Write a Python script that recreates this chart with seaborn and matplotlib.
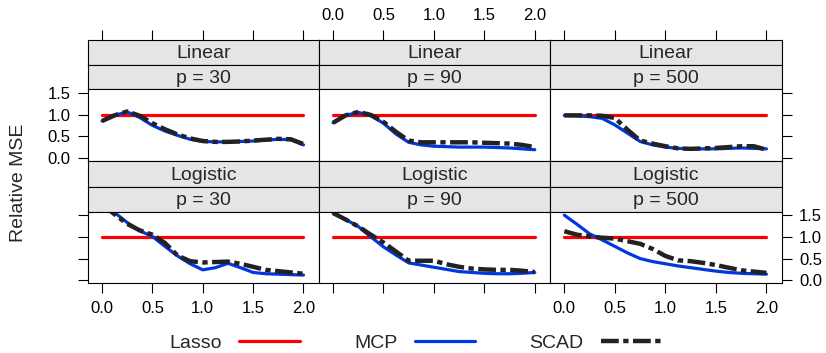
import matplotlib
matplotlib.use("Agg")
import numpy as np
import pandas as pd
import matplotlib.pyplot as plt
from matplotlib.lines import Line2D
import seaborn as sns

# shrinkage grid (x axis)
x_grid = [0, 0.125, 0.25, 0.375, 0.5, 0.625, 0.75, 0.875, 1.0,
          1.125, 1.25, 1.375, 1.5, 1.625, 1.75, 1.875, 2.0]

models = ["Linear", "Logistic"]
dims = [30, 90, 500]
methods = ["Lasso", "MCP", "SCAD"]

lasso_all = [1.0] * 17

mcp_linear_30 = [0.85, 0.98, 1.06, 0.93, 0.75, 0.62, 0.52, 0.43, 0.38, 0.37, 0.37, 0.38, 0.39, 0.41, 0.43, 0.42, 0.30]
scad_linear_30 = [0.85, 0.98, 1.07, 0.97, 0.80, 0.66, 0.54, 0.45, 0.39, 0.37, 0.37, 0.38, 0.40, 0.42, 0.44, 0.43, 0.32]
mcp_linear_90 = [0.81, 0.98, 1.05, 0.97, 0.80, 0.55, 0.36, 0.30, 0.27, 0.26, 0.25, 0.25, 0.25, 0.24, 0.23, 0.21, 0.19]
scad_linear_90 = [0.81, 0.98, 1.06, 0.99, 0.83, 0.60, 0.40, 0.36, 0.36, 0.36, 0.36, 0.36, 0.35, 0.34, 0.33, 0.30, 0.25]
mcp_linear_500 = [0.98, 0.97, 0.95, 0.91, 0.76, 0.57, 0.38, 0.30, 0.25, 0.22, 0.21, 0.21, 0.21, 0.22, 0.23, 0.22, 0.21]
scad_linear_500 = [0.98, 0.98, 0.98, 0.97, 0.92, 0.65, 0.40, 0.33, 0.27, 0.22, 0.21, 0.22, 0.23, 0.25, 0.27, 0.27, 0.19]

mcp_logistic_30 = [1.78, 1.56, 1.33, 1.14, 1.01, 0.78, 0.56, 0.38, 0.24, 0.29, 0.39, 0.29, 0.18, 0.15, 0.14, 0.13, 0.12]
scad_logistic_30 = [1.75, 1.52, 1.30, 1.15, 1.05, 0.86, 0.57, 0.44, 0.41, 0.42, 0.43, 0.38, 0.31, 0.24, 0.21, 0.18, 0.15]
mcp_logistic_90 = [1.55, 1.40, 1.24, 1.00, 0.77, 0.58, 0.40, 0.35, 0.30, 0.25, 0.20, 0.18, 0.16, 0.15, 0.15, 0.16, 0.18]
scad_logistic_90 = [1.55, 1.40, 1.24, 1.05, 0.87, 0.66, 0.45, 0.45, 0.45, 0.37, 0.31, 0.27, 0.25, 0.24, 0.24, 0.22, 0.19]
mcp_logistic_500 = [1.50, 1.29, 1.07, 0.93, 0.78, 0.63, 0.50, 0.43, 0.38, 0.33, 0.29, 0.25, 0.21, 0.18, 0.16, 0.15, 0.14]
scad_logistic_500 = [1.13, 1.05, 1.01, 0.98, 0.96, 0.90, 0.84, 0.72, 0.56, 0.46, 0.44, 0.40, 0.35, 0.29, 0.23, 0.20, 0.17]

curves = {
    ("Linear", 30): (mcp_linear_30, scad_linear_30),
    ("Linear", 90): (mcp_linear_90, scad_linear_90),
    ("Linear", 500): (mcp_linear_500, scad_linear_500),
    ("Logistic", 30): (mcp_logistic_30, scad_logistic_30),
    ("Logistic", 90): (mcp_logistic_90, scad_logistic_90),
    ("Logistic", 500): (mcp_logistic_500, scad_logistic_500),
}

rows = []
for (mdl, p), (mcp, scad) in curves.items():
    for meth, vals in zip(methods, [lasso_all, mcp, scad]):
        for xv, yv in zip(x_grid, vals):
            rows.append({"model": mdl, "p": p, "method": meth, "x": xv, "mse": yv})
df = pd.DataFrame(rows)

sns.set_style("white")
plt.rcParams["font.family"] = ["Liberation Sans", "DejaVu Sans"]

colors = {"Lasso": "#FF0000", "MCP": "#0038E0", "SCAD": "#222222"}
widths = {"Lasso": 2.3, "MCP": 2.3, "SCAD": 3.2}
styles = {"Lasso": "-", "MCP": "-", "SCAD": (0, (4, 1.0, 1.2, 1.0))}

W, H = 826, 353
fig = plt.figure(figsize=(W / 100, H / 100), dpi=100)

col_x = [87.7, 318.7, 550.0, 781.7]
row_y = [(40, 65.3, 89.3, 161.0), (161.0, 186.7, 211.7, 283.3)]
strip_bg = "#E5E5E5"
xlim = (-0.142, 2.151)
ylim = (-0.07, 1.58)
xticks = [0, 0.5, 1.0, 1.5, 2.0]
yticks = [0, 0.5, 1.0, 1.5]


def box(x0, x1, y0, y1):
    return [x0 / W, 1 - y1 / H, (x1 - x0) / W, (y1 - y0) / H]


for r, mdl in enumerate(models):
    s0, s1, s2, pb = row_y[r]
    for c, p in enumerate(dims):
        x0, x1 = col_x[c], col_x[c + 1]
        # strips
        for k, (ya, yb, txt) in enumerate([(s0, s1, mdl), (s1, s2, f"p = {p}")]):
            sax = fig.add_axes(box(x0, x1, ya, yb))
            sax.set_facecolor(strip_bg)
            sax.set_xlim(*xlim)
            sax.set_yticks([])
            for sp in sax.spines.values():
                sp.set_linewidth(0.8)
                sp.set_color("black")
            sax.text(0.5, 0.45, txt, ha="center", va="center", fontsize=14,
                     transform=sax.transAxes)
            if r == 0 and k == 0:
                # top axis of the lattice sits above the strips
                sax.set_xticks(xticks)
                sax.tick_params(axis="x", direction="out", length=7.5, width=0.8,
                                labelsize=12, colors="black", pad=5,
                                top=True, bottom=False,
                                labeltop=(c == 1), labelbottom=False)
            else:
                sax.set_xticks([])
        # panel
        ax = fig.add_axes(box(x0, x1, s2, pb))
        sub = df[(df["model"] == mdl) & (df["p"] == p)]
        for meth in methods:
            sns.lineplot(data=sub[sub["method"] == meth], x="x", y="mse", ax=ax,
                         color=colors[meth], linewidth=widths[meth],
                         linestyle=styles[meth], estimator=None, legend=False)
        ax.set_xlim(*xlim)
        ax.set_ylim(*ylim)
        ax.set_xticks(xticks)
        ax.set_yticks(yticks)
        ax.set_xlabel("")
        ax.set_ylabel("")
        for sp in ax.spines.values():
            sp.set_linewidth(0.8)
            sp.set_color("black")
        ax.tick_params(direction="out", length=7.5, width=0.8, labelsize=12,
                       colors="black", pad=5)
        if r == 0:
            ax.tick_params(axis="x", top=False, bottom=False,
                           labeltop=False, labelbottom=False)
            ax.tick_params(axis="y", left=(c == 0), right=(c == 2),
                           labelleft=(c == 0), labelright=False)
        else:
            ax.tick_params(axis="x", top=False, bottom=True,
                           labeltop=False, labelbottom=(c != 1))
            ax.tick_params(axis="y", left=(c == 0), right=(c == 2),
                           labelleft=False, labelright=(c == 2))

fig.text(19 / W, 1 - 182.5 / H, "Relative MSE", rotation=90,
         ha="center", va="center", fontsize=14)

handles = [Line2D([], [], color=colors[m], linewidth=widths[m], linestyle=styles[m])
           for m in methods]
fig.legend(handles, methods, loc="center", bbox_to_anchor=(0.503, 0.028),
           ncol=3, frameon=False, markerfirst=False, handlelength=3.1,
           handletextpad=0.9, columnspacing=2.8, fontsize=14)

fig.savefig("out.png", dpi=100)
